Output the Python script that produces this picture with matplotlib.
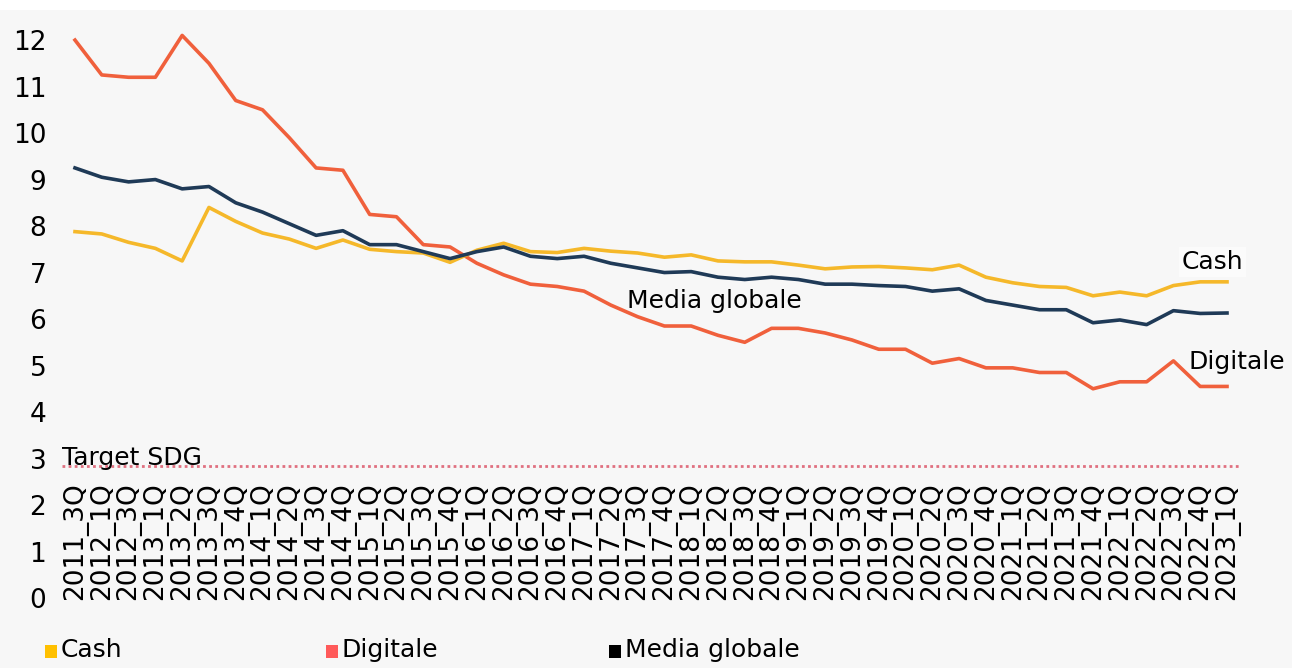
import matplotlib

matplotlib.use("Agg")
import matplotlib.pyplot as plt  # noqa: E402
from matplotlib.patches import Rectangle  # noqa: E402
from matplotlib.transforms import blended_transform_factory  # noqa: E402

quarters = (
    ["2011_3Q", "2012_1Q", "2012_3Q", "2013_1Q", "2013_2Q", "2013_3Q", "2013_4Q"]
    + [f"{year}_{q}Q" for year in range(2014, 2023) for q in range(1, 5)]
    + ["2023_1Q"]
)

cash = [
    7.88, 7.83, 7.65, 7.52, 7.25, 8.40, 8.10, 7.85, 7.72, 7.52,
    7.70, 7.50, 7.45, 7.42, 7.22, 7.48, 7.63, 7.45, 7.43, 7.52,
    7.46, 7.42, 7.33, 7.38, 7.25, 7.23, 7.23, 7.16, 7.08, 7.12,
    7.13, 7.10, 7.06, 7.16, 6.90, 6.78, 6.70, 6.68, 6.50, 6.58,
    6.50, 6.72, 6.80, 6.80,
]
digitale = [
    12.00, 11.25, 11.20, 11.20, 12.10, 11.50, 10.70, 10.50, 9.90, 9.25,
    9.20, 8.25, 8.20, 7.60, 7.55, 7.20, 6.95, 6.75, 6.70, 6.60,
    6.30, 6.05, 5.85, 5.85, 5.65, 5.50, 5.80, 5.80, 5.70, 5.55,
    5.35, 5.35, 5.05, 5.15, 4.95, 4.95, 4.85, 4.85, 4.50, 4.65,
    4.65, 5.10, 4.55, 4.55,
]
media = [
    9.25, 9.05, 8.95, 9.00, 8.80, 8.85, 8.50, 8.30, 8.05, 7.80,
    7.90, 7.60, 7.60, 7.45, 7.30, 7.45, 7.55, 7.35, 7.30, 7.35,
    7.20, 7.10, 7.00, 7.02, 6.90, 6.85, 6.90, 6.85, 6.75, 6.75,
    6.72, 6.70, 6.60, 6.65, 6.40, 6.30, 6.20, 6.20, 5.92, 5.98,
    5.88, 6.18, 6.12, 6.13,
]
target_sdg = 2.84
y_ticks = list(range(0, 13))

BG = "#f7f7f7"
CASH_LINE, CASH_KEY = "#f5b82a", "#ffc000"
DIG_LINE, DIG_KEY = "#f0603c", "#ff5a5a"
MEDIA_LINE, MEDIA_KEY = "#1f3a57", "#000000"
FONT = 19
NOTE = 18

fig = plt.figure(figsize=(12.92, 6.68), dpi=100, facecolor=BG)
fig.patches.append(Rectangle((0, 1 - 10 / 668), 1, 10 / 668, transform=fig.transFigure,
                             facecolor="white", edgecolor="none", zorder=-1))
ax = fig.add_axes([61.6 / 1292, 0.1048, 1178.8 / 1292, 0.870])
ax.set_facecolor(BG)
for spine in ax.spines.values():
    spine.set_visible(False)

x = list(range(len(quarters)))
ax.plot(x, cash, color=CASH_LINE, lw=2.6, zorder=3)
ax.plot(x, media, color=MEDIA_LINE, lw=2.6, zorder=4)
ax.plot(x, digitale, color=DIG_LINE, lw=2.6, zorder=2)

ax.axhline(target_sdg, xmin=0, xmax=1, color="#e07080", lw=2, ls=(0, (1, 1.2)), zorder=1)
ax.text(0.0, target_sdg - 0.08, "Target SDG", fontsize=NOTE, ha="left", va="bottom",
        transform=blended_transform_factory(ax.transAxes, ax.transData))

ax.set_xlim(-0.5, len(quarters) - 0.5)
ax.set_ylim(0, 12.5)
ax.set_yticks(y_ticks)
ax.set_yticklabels([str(v) for v in y_ticks], fontsize=FONT)
ax.tick_params(axis="y", length=0, pad=11)
ax.set_xticks([])

trans = blended_transform_factory(ax.transData, ax.transData)
for i, label in enumerate(quarters):
    ax.text(i, -0.05, label, rotation=90, ha="center", va="bottom", fontsize=FONT,
            transform=trans)

ax.text(41.3, 7.23, "Cash", fontsize=NOTE, ha="left", va="center",
        bbox=dict(facecolor="white", edgecolor="none", alpha=0.6, pad=2))
ax.text(20.6, 6.39, "Media globale", fontsize=NOTE, ha="left", va="center")
ax.text(41.55, 5.08, "Digitale", fontsize=NOTE, ha="left", va="center")

legend_items = [("Cash", CASH_KEY, 45), ("Digitale", DIG_KEY, 326), ("Media globale", MEDIA_KEY, 609)]
for name, color, px in legend_items:
    fig.patches.append(Rectangle((px / 1292, 1 - 658 / 668), 12 / 1292, 13 / 668,
                                 transform=fig.transFigure, facecolor=color, edgecolor="none"))
    fig.text((px + 16) / 1292, 1 - 650 / 668, name, fontsize=NOTE, ha="left", va="center")

fig.savefig("out.png", dpi=100, facecolor=BG)
